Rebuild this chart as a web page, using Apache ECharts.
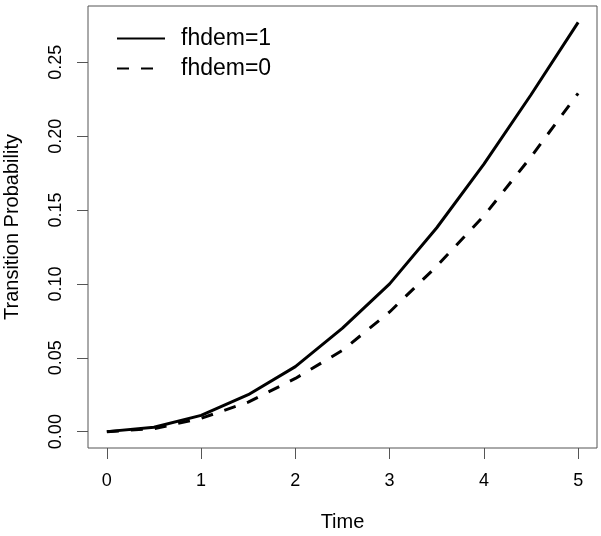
<!DOCTYPE html>
<html>
<head>
<meta charset="utf-8">
<script src="https://cdn.jsdelivr.net/npm/echarts@6/dist/echarts.min.js"></script>
<style>html,body{margin:0;padding:0;background:#fff}#c{width:601px;height:536px}</style>
</head>
<body>
<div id="c"></div>
<script>
var time = [0, 0.5, 1, 1.5, 2, 2.5, 3, 3.5, 4, 4.5, 5];
var fhdem1 = [0, 0.003, 0.011, 0.025, 0.044, 0.070, 0.100, 0.138, 0.181, 0.228, 0.277];
var fhdem0 = [0, 0.002, 0.009, 0.020, 0.036, 0.055, 0.081, 0.112, 0.146, 0.186, 0.229];
var xTicks = [0, 1, 2, 3, 4, 5];
var yTicks = [0, 0.05, 0.10, 0.15, 0.20, 0.25];
var seriesNames = ['fhdem=1', 'fhdem=0'];

function pairs(xs, ys) { return xs.map(function (x, i) { return [x, ys[i]]; }); }
var FONT = 'Liberation Sans, Arial, sans-serif';
var chart = echarts.init(document.getElementById('c'), null, { renderer: 'canvas' });
chart.setOption({
  animation: false,
  backgroundColor: '#fff',
  grid: { left: 88, right: 4, top: 6, bottom: 88, show: true, borderColor: '#555', borderWidth: 1,
    containLabel: false, outerBoundsMode: 'none' },
  legend: {
    left: 111, top: 22, orient: 'vertical', itemWidth: 48, itemHeight: 14, itemGap: 7,
    data: seriesNames,
    itemStyle: { color: 'rgba(0,0,0,0)', borderColor: 'rgba(0,0,0,0)', borderWidth: 0, opacity: 0 },
    textStyle: { fontFamily: FONT, fontSize: 23, color: '#000', padding: [0, 0, 0, 11], lineHeight: 23 }
  },
  xAxis: {
    type: 'value', min: -0.2, max: 5.2,
    name: 'Time', nameLocation: 'middle', nameGap: 64,
    nameTextStyle: { fontFamily: FONT, fontSize: 20, color: '#000' },
    axisLine: { show: false, onZero: false },
    splitLine: { show: false },
    axisTick: { show: true, inside: false, length: 11, customValues: xTicks, lineStyle: { color: '#555', width: 1 } },
    axisLabel: { customValues: xTicks, margin: 24, fontFamily: FONT, fontSize: 18, color: '#000',
      formatter: function (v) { return String(v); } }
  },
  yAxis: {
    type: 'value', min: -0.01108, max: 0.28808,
    name: 'Transition Probability', nameLocation: 'middle', nameGap: 66, nameRotate: 90,
    nameTextStyle: { fontFamily: FONT, fontSize: 20, color: '#000' },
    axisLine: { show: false, onZero: false },
    splitLine: { show: false },
    axisTick: { show: true, inside: false, length: 11, customValues: yTicks, lineStyle: { color: '#555', width: 1 } },
    axisLabel: { customValues: yTicks, margin: 23, rotate: 90, fontFamily: FONT, fontSize: 18, color: '#000',
      formatter: function (v) { return v.toFixed(2); } }
  },
  series: [
    { name: seriesNames[0], type: 'line', data: pairs(time, fhdem1), symbol: 'none', smooth: false,
      lineStyle: { color: '#000', width: 3, type: 'solid' }, itemStyle: { color: '#000' } },
    { name: seriesNames[1], type: 'line', data: pairs(time, fhdem0), symbol: 'none', smooth: false,
      lineStyle: { color: '#000', width: 3, type: [12, 12] }, itemStyle: { color: '#000' } }
  ]
});
</script>
</body>
</html>
